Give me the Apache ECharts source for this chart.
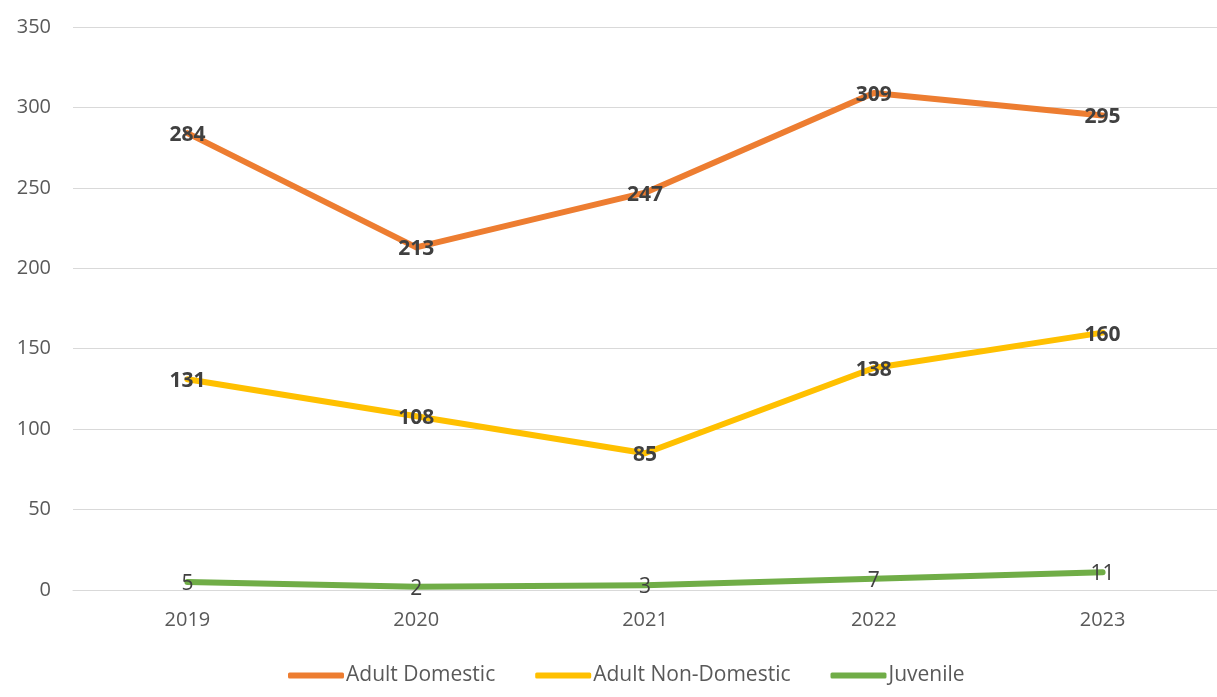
<!DOCTYPE html>
<html><head><meta charset="utf-8">
<script src="https://cdn.jsdelivr.net/npm/echarts@6/dist/echarts.min.js"></script>
<style>html,body{margin:0;padding:0;background:#fff}#c{width:1217px;height:697px}</style>
</head><body><div id="c"></div>
<script>
const years = ['2019','2020','2021','2022','2023'];
const adultDomestic = [284, 213, 247, 309, 295];
const adultNonDomestic = [131, 108, 85, 138, 160];
const juvenile = [5, 2, 3, 7, 11];
const yTicks = [0, 50, 100, 150, 200, 250, 300, 350];

const FONT = '"Open Sans", sans-serif';
function mk(name, data, color, bold) {
  return {
    name, type: 'line', data,
    symbol: 'circle', symbolSize: 1, showSymbol: true,
    lineStyle: { color, width: 6, cap: 'round', join: 'round' },
    itemStyle: { color },
    label: { show: true, position: 'inside', offset: [0, 2], color: '#404040',
      fontFamily: FONT, fontSize: 21, fontWeight: bold ? 'bold' : 'normal' },
    emphasis: { disabled: true }, animation: false
  };
}
const chart = echarts.init(document.getElementById('c'));
chart.setOption({
  animation: false,
  textStyle: { fontFamily: FONT },
  grid: { left: 73, right: 0, top: 27, bottom: 107, containLabel: false },
  xAxis: { type: 'category', data: years, boundaryGap: true,
    axisLine: { lineStyle: { color: '#D9D9D9', width: 1 } },
    axisTick: { show: false },
    axisLabel: { color: '#595959', fontSize: 20, fontFamily: FONT, margin: 20 } },
  yAxis: { type: 'value', min: yTicks[0], max: yTicks[yTicks.length-1], interval: 50,
    axisLine: { show: false }, axisTick: { show: false },
    splitLine: { lineStyle: { color: '#D9D9D9', width: 1 } },
    axisLabel: { color: '#595959', fontSize: 20, fontFamily: FONT, margin: 22 } },
  legend: { bottom: 6, left: 283, icon: 'roundRect', itemWidth: 56, itemHeight: 6, itemGap: 40,
    textStyle: { color: '#595959', fontSize: 21, fontFamily: FONT, padding: [0,0,0,-3] },
    data: ['Adult Domestic', 'Adult Non-Domestic', 'Juvenile'] },
  series: [
    mk('Adult Domestic', adultDomestic, '#ED7D31', true),
    mk('Adult Non-Domestic', adultNonDomestic, '#FFC000', true),
    mk('Juvenile', juvenile, '#70AD47', false)
  ]
});
</script></body></html>
